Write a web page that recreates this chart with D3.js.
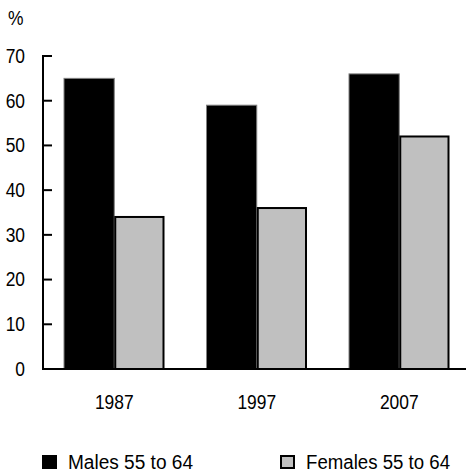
<!DOCTYPE html>
<html>
<head>
<meta charset="utf-8">
<script src="https://cdn.jsdelivr.net/npm/d3@7"></script>
<style>
  html, body { margin: 0; padding: 0; background: #fff; }
  svg { display: block; }
  text { font-family: "Liberation Sans", Arial, sans-serif; font-size: 20px; fill: #000; }
</style>
</head>
<body>
<svg id="chart" width="466" height="472"></svg>
<script>
const years = ["1987", "1997", "2007"];
const series = ["Males 55 to 64", "Females 55 to 64"];
const males = [65, 59, 66];
const females = [34, 36, 52];
const yTicks = [0, 10, 20, 30, 40, 50, 60, 70];
const yUnit = "%";

const svg = d3.select("#chart");
const axisX = 43, baseY = 369, topY = 56;
const narrow = 0.87;

const y = d3.scaleLinear().domain([0, 70]).range([baseY, topY]);
const x0 = d3.scaleBand().domain(years).range([axisX, 470.5])
  .paddingInner(42 / 142.5).paddingOuter(21 / 142.5);
const x1 = d3.scaleBand().domain(series).range([0, x0.bandwidth()]);

const data = years.map((yr, i) => ({ year: yr, values: [males[i], females[i]] }));

// bars
const g = svg.append("g");
data.forEach(d => {
  g.append("rect")
    .attr("x", x0(d.year) + x1(series[0]))
    .attr("y", y(d.values[0]))
    .attr("width", x1.bandwidth())
    .attr("height", baseY - y(d.values[0]))
    .attr("fill", "#000")
    .attr("stroke", "#808080")
    .attr("stroke-width", 1);
  g.append("rect")
    .attr("x", x0(d.year) + x1(series[1]) + 1)
    .attr("y", y(d.values[1]))
    .attr("width", x1.bandwidth() - 2)
    .attr("height", baseY - y(d.values[1]))
    .attr("fill", "#c0c0c0")
    .attr("stroke", "#000")
    .attr("stroke-width", 2);
});

// y axis line and inward ticks
svg.append("line").attr("x1", axisX).attr("x2", axisX).attr("y1", topY - 1).attr("y2", baseY + 1)
  .attr("stroke", "#000").attr("stroke-width", 2);
svg.append("g").selectAll("line").data(yTicks).join("line")
  .attr("x1", axisX).attr("x2", axisX + 9)
  .attr("y1", d => y(d)).attr("y2", d => y(d))
  .attr("stroke", "#000").attr("stroke-width", 2);

// y labels
svg.append("g").selectAll("text").data(yTicks).join("text")
  .attr("transform", d => `translate(25,${y(d)}) scale(${narrow},1)`)
  .attr("dy", "0.34em")
  .attr("text-anchor", "end").text(d => d);

svg.append("text").attr("transform", `translate(8,25) scale(${narrow},1)`).text(yUnit);

// x axis
svg.append("line").attr("x1", axisX - 1).attr("x2", 466).attr("y1", baseY).attr("y2", baseY)
  .attr("stroke", "#000").attr("stroke-width", 2);
svg.append("g").selectAll("text").data(years).join("text")
  .attr("transform", d => `translate(${x0(d) + x0.bandwidth() / 2},409) scale(${narrow},1)`)
  .attr("text-anchor", "middle").text(d => d);

// legend
const legend = [
  { label: series[0], x: 42, fill: "#000", stroke: "#000", w: 125 },
  { label: series[1], x: 280, fill: "#c0c0c0", stroke: "#000", w: 144 }
];
legend.forEach(l => {
  svg.append("rect").attr("x", l.x + 1).attr("y", 456).attr("width", 13).attr("height", 12)
    .attr("fill", l.fill).attr("stroke", l.stroke).attr("stroke-width", 2);
  svg.append("text").attr("x", l.x + 26).attr("y", 469)
    .attr("textLength", l.w).attr("lengthAdjust", "spacingAndGlyphs")
    .text(l.label);
});
</script>
</body>
</html>
